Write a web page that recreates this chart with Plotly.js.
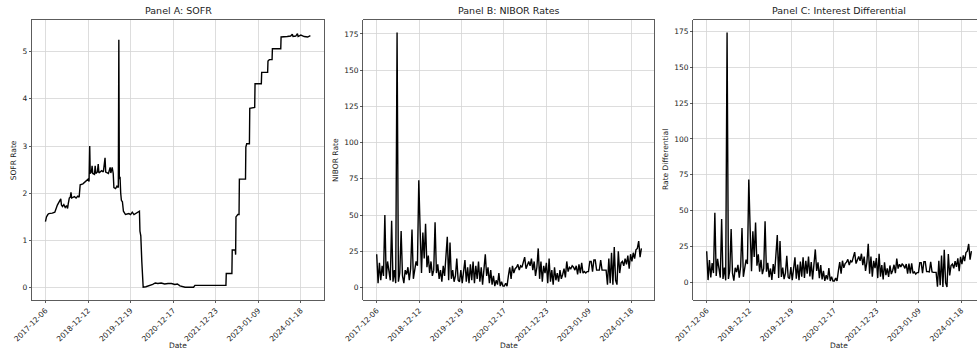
<!DOCTYPE html>
<html>
<head>
<meta charset="utf-8">
<script src="https://cdn.plot.ly/plotly-3.0.1.min.js"></script>
<style>
html,body{margin:0;padding:0;overflow:hidden;background:#fff;width:977px;height:363px;}
#chart{width:985px;height:363px;}
</style>
</head>
<body>
<div id="chart"></div>
<script>
// Tick positions (observation index) and their date labels
const tickIdx = [0, 250, 500, 750, 1000, 1250, 1500];
const tickLabels = ["2017-12-06", "2018-12-12", "2019-12-19", "2020-12-17", "2021-12-23", "2023-01-09", "2024-01-18"];

// Panel A: SOFR (observation index, rate)
const sofrIdx = [0,6,14,20,40,55,70,84,90,94,100,108,116,124,130,134,140,146,150,154,170,180,190,198,204,220,232,244,250,256,260,263,270,274,278,288,292,296,305,310,314,330,340,350,354,370,380,384,392,398,402,412,420,428,431,434,438,442,446,452,458,470,490,500,510,520,535,545,552,555,560,566,570,574,590,610,630,645,660,680,700,720,740,760,775,790,805,820,870,878,1060,1062,1095,1097,1115,1117,1119,1130,1137,1139,1175,1177,1182,1198,1200,1229,1231,1268,1270,1305,1307,1315,1331,1333,1382,1384,1420,1440,1450,1454,1470,1480,1484,1500,1520,1540,1556];
const sofrVal = [1.40,1.50,1.55,1.57,1.58,1.60,1.75,1.86,1.88,1.75,1.72,1.76,1.70,1.74,1.68,1.78,1.90,1.92,2.02,1.90,1.93,1.90,1.94,1.92,2.18,2.20,2.24,2.28,2.30,2.25,3.00,2.42,2.45,2.58,2.42,2.40,2.58,2.42,2.45,2.62,2.43,2.48,2.45,2.75,2.45,2.42,2.55,2.43,2.55,2.42,2.12,2.10,2.15,2.12,5.25,2.30,2.35,2.00,1.85,1.82,1.62,1.55,1.57,1.55,1.60,1.55,1.58,1.60,1.62,1.20,1.10,0.55,0.30,0.01,0.02,0.04,0.07,0.10,0.09,0.10,0.08,0.09,0.09,0.07,0.08,0.04,0.03,0.01,0.01,0.05,0.05,0.30,0.30,0.80,0.80,0.70,1.50,1.55,1.55,2.30,2.30,2.98,3.05,3.05,3.80,3.82,4.32,4.32,4.56,4.56,4.80,4.83,4.83,5.06,5.06,5.31,5.32,5.33,5.37,5.32,5.33,5.38,5.32,5.35,5.32,5.31,5.34];

// Panels B and C share observation indices
const obsIdx = [0,8,16,24,32,40,48,56,64,72,80,88,96,104,112,120,128,136,144,152,160,168,176,184,192,200,208,216,224,232,240,248,256,264,272,280,288,296,304,312,320,328,336,344,352,360,368,376,384,392,400,408,416,424,432,440,448,456,464,472,480,488,496,504,512,520,528,536,544,552,560,568,576,584,592,600,608,616,624,632,640,648,656,664,672,680,688,696,704,712,720,728,736,744,752,760,768,776,784,792,800,808,816,824,832,840,848,856,864,872,880,888,896,904,912,920,928,936,944,952,960,968,976,984,992,1000,1008,1016,1024,1032,1040,1048,1056,1064,1072,1080,1088,1096,1104,1112,1120,1128,1136,1144,1152,1160,1168,1176,1184,1192,1200,1208,1216,1224,1232,1240,1248,1256,1264,1272,1280,1288,1296,1304,1312,1320,1328,1336,1344,1352,1360,1368,1376,1384,1392,1400,1408,1416,1424,1432,1440,1448,1456,1464,1472,1480,1488,1496,1504,1512,1520,1528,1536,1544,1552,1560];

// Panel B: NIBOR rates
const niborVal = [23,3,17,5,15,8,50,6,18,10,5,46,4,12,3,176,4,10,39,8,3,12,9,14,5,13,40,6,12,18,15,74,40,10,38,20,44,14,22,10,18,8,12,45,10,16,6,12,4,15,8,20,35,5,31,6,12,4,8,20,5,4,12,3,10,19,4,14,3,16,5,18,3,15,6,18,4,14,2,16,23,8,14,3,12,2,8,1,5,2,10,1,4,1,1,3,1,8,14,6,15,10,13,14,16,12,15,14,17,21,13,16,18,15,20,12,18,8,14,27,6,18,4,15,10,17,3,20,4,12,2,14,5,10,4,12,6,9,13,7,18,11,14,13,15,14,12,15,9,16,10,17,10,11,10,11,11,18,18,11,19,19,12,12,12,19,12,12,12,12,2,20,3,24,2,28,5,2,25,10,17,18,15,20,16,22,13,23,18,24,20,26,27,32,21,27];

// Panel C: interest differential
const diffVal = [21.6,1.5,15.5,3.4,13.4,6.4,48.4,4.4,16.3,8.3,3.2,44.1,2.3,10.3,1.3,174.3,2.3,8.3,37.1,6.1,1.1,10.1,7.1,12.1,3.1,11.1,37.8,3.8,9.8,15.8,12.7,71.7,37.6,7.6,35.5,17.6,41.6,11.6,19.5,7.4,15.6,5.6,9.6,42.6,7.3,13.6,3.6,9.6,1.6,12.6,5.8,17.9,32.9,2.9,28.8,3.7,10.2,2.2,6.4,18.5,3.5,2.5,10.5,1.5,8.5,17.4,2.5,12.4,1.4,14.4,3.9,17.4,3.0,15.0,6.0,18.0,4.0,14.0,2.0,15.9,22.9,7.9,13.9,2.9,11.9,1.9,7.9,0.9,4.9,1.9,9.9,0.9,3.9,0.9,0.9,2.9,0.9,7.9,14.0,6.0,15.0,10.0,13.0,14.0,16.0,12.0,15.0,14.0,17.0,21.0,13.0,15.9,17.9,14.9,19.9,11.9,17.9,7.9,13.9,26.9,5.9,17.9,3.9,14.9,9.9,16.9,2.9,19.9,3.9,11.9,1.9,13.9,4.9,9.7,3.7,11.7,5.7,8.2,12.2,6.3,16.5,9.5,12.5,10.7,12.7,11.7,9.7,12.7,6.0,13.0,6.2,13.2,6.2,7.2,5.7,6.7,6.7,13.7,13.7,6.4,14.4,14.4,7.4,7.4,7.2,14.2,7.2,6.9,6.9,6.9,-3.1,14.9,-2.1,18.7,-3.3,22.7,-0.3,-3.3,19.7,4.7,11.7,12.7,9.7,14.7,10.7,16.6,7.7,17.7,12.7,18.7,14.7,20.7,21.7,26.7,15.7,21.7];

const W = 985, H = 363;
const yDom = [1 - 300 / H, 1 - 20 / H];
const xDoms = [[32 / W, 324 / W], [363.3 / W, 654.3 / W], [693.3 / W, 984.3 / W]];
const fam = "DejaVu Sans, sans-serif";
const txt = "#222";

function xAxis(dom, anchor) {
  return {
    domain: dom, anchor: anchor, range: [-79, 1636],
    tickmode: "array", tickvals: tickIdx, ticktext: tickLabels, tickangle: -45,
    tickfont: {size: 7.5, family: fam, color: txt},
    ticks: "outside", ticklen: 2.5, tickcolor: "#333", tickwidth: 0.8,
    showgrid: true, gridcolor: "#d4d4d4", gridwidth: 0.8,
    zeroline: false, showline: true, linecolor: "#333", linewidth: 0.8, mirror: true,
    automargin: false
  };
}
function yAxis(anchor, range, tv) {
  return {
    domain: yDom, anchor: anchor, range: range,
    tickmode: "array", tickvals: tv,
    tickfont: {size: 7.5, family: fam, color: txt},
    ticks: "outside", ticklen: 2.5, tickcolor: "#333", tickwidth: 0.8,
    showgrid: true, gridcolor: "#d4d4d4", gridwidth: 0.8,
    zeroline: false, showline: true, linecolor: "#333", linewidth: 0.8, mirror: true,
    automargin: false
  };
}

const lineStyle = {color: "#000", width: 1.4};
const data = [
  {x: sofrIdx, y: sofrVal, type: "scatter", mode: "lines", line: lineStyle, xaxis: "x", yaxis: "y", name: "SOFR"},
  {x: obsIdx, y: niborVal, type: "scatter", mode: "lines", line: lineStyle, xaxis: "x2", yaxis: "y2", name: "NIBOR"},
  {x: obsIdx, y: diffVal, type: "scatter", mode: "lines", line: lineStyle, xaxis: "x3", yaxis: "y3", name: "Differential"}
];

const panelTitles = ["Panel A: SOFR", "Panel B: NIBOR Rates", "Panel C: Interest Differential"];
const yTitles = ["SOFR Rate", "NIBOR Rate", "Rate Differential"];
const yTitleX = [13.3, 335, 665];
const annotations = [];
panelTitles.forEach((t, i) => {
  const cx = (xDoms[i][0] + xDoms[i][1]) / 2;
  annotations.push({text: t, xref: "paper", yref: "paper", x: cx, y: 1 - 11 / H,
    xanchor: "center", yanchor: "middle", showarrow: false,
    font: {size: 9.5, family: fam, color: txt}});
  annotations.push({text: "Date", xref: "paper", yref: "paper", x: cx, y: 1 - 345.5 / H,
    xanchor: "center", yanchor: "middle", showarrow: false,
    font: {size: 7.5, family: fam, color: txt}});
  annotations.push({text: yTitles[i], xref: "paper", yref: "paper", x: yTitleX[i] / W, y: 1 - 160 / H,
    xanchor: "center", yanchor: "middle", showarrow: false, textangle: -90,
    font: {size: 7.5, family: fam, color: txt}});
});

const layout = {
  width: W, height: H,
  margin: {l: 0, r: 0, t: 0, b: 0},
  paper_bgcolor: "#fff", plot_bgcolor: "#fff",
  showlegend: false,
  xaxis: xAxis(xDoms[0], "y"),
  yaxis: yAxis("x", [-0.26, 5.67], [0, 1, 2, 3, 4, 5]),
  xaxis2: xAxis(xDoms[1], "y2"),
  yaxis2: yAxis("x2", [-8.6, 184.6], [0, 25, 50, 75, 100, 125, 150, 175]),
  xaxis3: xAxis(xDoms[2], "y3"),
  yaxis3: yAxis("x3", [-12.4, 183], [0, 25, 50, 75, 100, 125, 150, 175]),
  annotations: annotations
};

Plotly.newPlot("chart", data, layout, {displayModeBar: false, staticPlot: true});
</script>
</body>
</html>
